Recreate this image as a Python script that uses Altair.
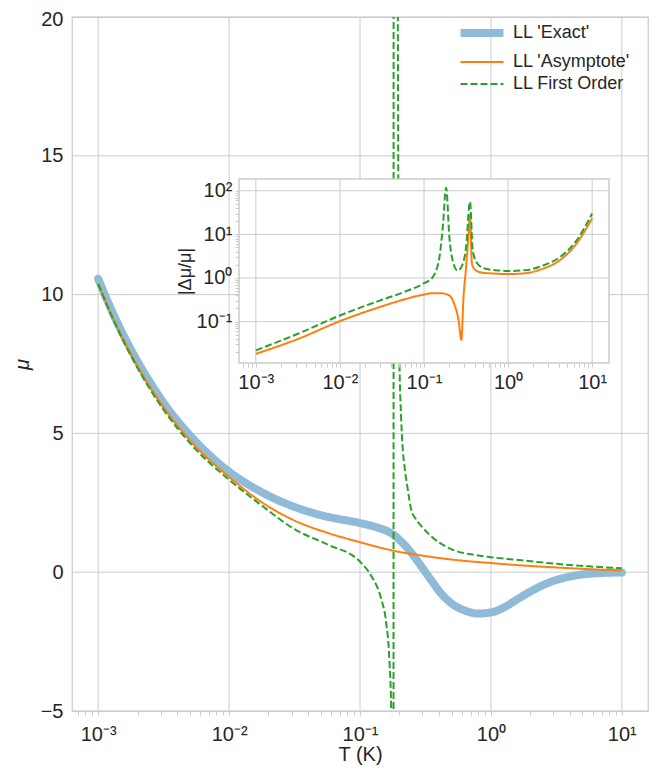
import json
import altair as alt
import pandas as pd

FONT = "Liberation Sans"
TXT = "#262626"
GRID = "#cccccc"

# ---------------- series ----------------
SERIES = ["LL 'Exact'", "LL 'Asymptote'", "LL First Order"]
SERIES_COLORS = ["#8fbbd9", "#ff7f0e", "#2ca02c"]
SERIES_DASH = [[1, 0], [1, 0], [7, 3]]
SERIES_WIDTH = [8, 2, 2]

# main panel: log10(T) and mu
exact_logT = [-3, -2.875, -2.75, -2.625, -2.5, -2.25, -2, -1.75, -1.5, -1.25, -1, -0.875,
              -0.75, -0.68, -0.61, -0.55, -0.5, -0.45, -0.38, -0.3, -0.2, -0.1, 0, 0.1,
              0.2, 0.3, 0.4, 0.5, 0.6, 0.7, 0.8, 0.9, 1]
exact_mu = [10.57, 9.2, 8.02, 7.0, 6.1, 4.68, 3.62, 2.88, 2.35, 2.0, 1.77, 1.62,
            1.37, 1.08, 0.71, 0.33, 0.0, -0.33, -0.77, -1.13, -1.38, -1.49, -1.45, -1.27,
            -0.98, -0.7, -0.46, -0.28, -0.16, -0.08, -0.04, -0.02, -0.01]

asym_logT = [-3, -2.875, -2.75, -2.625, -2.5, -2.25, -2, -1.75, -1.5, -1.25, -1, -0.75,
             -0.5, -0.25, 0, 0.25, 0.5, 0.75, 1]
asym_mu = [10.42, 9.04, 7.86, 6.83, 5.94, 4.5, 3.43, 2.52, 1.86, 1.42, 1.08, 0.78,
           0.58, 0.43, 0.33, 0.24, 0.17, 0.11, 0.06]

first_logT = [-3, -2.875, -2.75, -2.625, -2.5, -2.25, -2, -1.75, -1.5, -1.25, -1, -0.916,
              -0.839, -0.801, -0.775, -0.762, -0.752, -0.745,
              -0.742, -0.712, -0.708, -0.7, -0.686, -0.673, -0.66, -0.635, -0.609, -0.571,
              -0.533, -0.43, -0.303, -0.124, 0, 0.25, 0.5, 0.75, 1]
first_mu = [10.38, 9.0, 7.8, 6.75, 5.85, 4.4, 3.33, 2.4, 1.55, 1.0, 0.38, -0.12,
            -0.95, -1.79, -3.21, -4.9, -9.0, -30.0,
            60.0, 22.0, 15.0, 8.0, 5.6, 4.4, 3.81, 2.98, 2.26, 1.9,
            1.67, 1.19, 0.83, 0.62, 0.54, 0.42, 0.30, 0.21, 0.14]

# inset: log10(T) and log10(|dmu/mu|)
asym_err_logT = [-3, -2.5, -2, -1.5, -1.25, -1, -0.9, -0.8, -0.7, -0.64, -0.588, -0.556,
                 -0.53, -0.5, -0.473, -0.453, -0.43, -0.38, -0.3, -0.15, 0, 0.21, 0.41,
                 0.61, 0.81, 1.0]
asym_err_log = [-1.74, -1.40, -0.99, -0.65, -0.5, -0.38, -0.35, -0.35, -0.40, -0.6, -0.98, -1.42,
                -0.44, 0.24, 0.93, 1.46, 0.32, 0.17, 0.12, 0.1, 0.09, 0.11, 0.21,
                0.40, 0.78, 1.37]

first_err_logT = [-3, -2.5, -2, -1.5, -1.25, -1, -0.9, -0.817, -0.777, -0.737, -0.698, -0.659,
                  -0.6, -0.54, -0.5, -0.453, -0.42, -0.36, -0.263, -0.1, 0, 0.21, 0.41,
                  0.61, 0.81, 1.0]
first_err_log = [-1.66, -1.28, -0.86, -0.5, -0.33, -0.12, 0.01, 0.47, 1.16, 2.07, 0.93, 0.4,
                 0.17, 0.32, 0.70, 1.75, 0.62, 0.32, 0.21, 0.17, 0.16, 0.18, 0.28,
                 0.47, 0.85, 1.48]

# ---------------- axes ----------------
x_lim_exp = [-3.2, 1.2]
y_lim = [-5, 20]
y_ticks = [-5, 0, 5, 10, 15, 20]
x_major_exp = [-3, -2, -1, 0, 1]
x_major_labels = ["10⁻³", "10⁻²", "10⁻¹", "10⁰", "10¹"]
inset_y_lim_exp = [-1.95, 2.27]
inset_y_major_exp = [-1, 0, 1, 2]
inset_y_major_labels = ["10⁻¹", "10⁰", "10¹", "10²"]
minor_mult = [1, 2, 3, 4, 5, 6, 7, 8, 9]

x_dom = [10.0 ** x_lim_exp[0], 10.0 ** x_lim_exp[1]]
iy_dom = [10.0 ** inset_y_lim_exp[0], 10.0 ** inset_y_lim_exp[1]]
x_majors = [10.0 ** e for e in x_major_exp]
iy_majors = [10.0 ** e for e in inset_y_major_exp]

PLOT_W, PLOT_H = 576, 694
LABEL_SIZE = 20


def log_ticks(dom):
    vals = []
    for e in range(-5, 4):
        for m in minor_mult:
            v = m * 10.0 ** e if m > 1 else 10.0 ** e
            if dom[0] <= v <= dom[1]:
                vals.append(v)
    return vals


def label_expr(majors, labels):
    mj = json.dumps(majors)
    lb = json.dumps(labels, ensure_ascii=False)
    return f"indexof({mj}, datum.value) >= 0 ? {lb}[indexof({mj}, datum.value)] : ''"


def line_df(logT, vals, name, logv=False):
    return pd.DataFrame({
        "T": [10.0 ** v for v in logT],
        "v": [10.0 ** a for a in vals] if logv else vals,
        "series": name,
    })


# ---------------- shared encodings ----------------
color = alt.Color("series:N", scale=alt.Scale(domain=SERIES, range=SERIES_COLORS), legend=alt.Legend(title=None))
dash = alt.StrokeDash("series:N", scale=alt.Scale(domain=SERIES, range=SERIES_DASH), legend=alt.Legend(title=None))
width = alt.StrokeWidth("series:N", scale=alt.Scale(type="ordinal", domain=SERIES, range=SERIES_WIDTH),
                        legend=alt.Legend(title=None))

main_x_scale = alt.Scale(type="log", domain=x_dom, nice=False, zero=False)
main_y_scale = alt.Scale(domain=y_lim, nice=False, zero=False)

main_x_axis = alt.Axis(values=log_ticks(x_dom), labelExpr=label_expr(x_majors, x_major_labels),
                       grid=False, domain=False, tickSize=4, tickColor=GRID, labelPadding=9,
                       labelOverlap=False, labelFlush=False, title="T (K)", titlePadding=0)
main_y_axis = alt.Axis(values=y_ticks, grid=False, domain=False, ticks=False, labelPadding=9,
                       labelOffset={"condition": {"test": f"datum.value == {y_lim[1]}", "value": 2}, "value": 0},
                       title="μ", titleFontStyle="italic", titlePadding=8)


def mx(field):
    return alt.X(f"{field}:Q", scale=main_x_scale, axis=main_x_axis)


def my(field):
    return alt.Y(f"{field}:Q", scale=main_y_scale, axis=main_y_axis)


vgrid = alt.Chart(pd.DataFrame({"gx": x_majors})).mark_rule(color=GRID, strokeWidth=1).encode(x=mx("gx"))
hgrid = alt.Chart(pd.DataFrame({"gy": y_ticks})).mark_rule(color=GRID, strokeWidth=1).encode(y=my("gy"))


def main_line(df, cap="butt"):
    return alt.Chart(df).mark_line(clip=True, interpolate="monotone", strokeCap=cap).encode(
        x=mx("T"), y=my("v"), color=color, strokeDash=dash, strokeWidth=width)


blue = main_line(line_df(exact_logT, exact_mu, SERIES[0]), cap="round")
orange = main_line(line_df(asym_logT, asym_mu, SERIES[1]))
green = main_line(line_df(first_logT, first_mu, SERIES[2]))

main = alt.layer(vgrid, hgrid, blue, orange, green)

# ---------------- inset ----------------
INSET_X_RANGE = [167, 537]
INSET_Y_RANGE = [346, 162]
ins_x_scale = alt.Scale(type="log", domain=x_dom, range=INSET_X_RANGE, nice=False, zero=False)
ins_y_scale = alt.Scale(type="log", domain=iy_dom, range=INSET_Y_RANGE, nice=False, zero=False)
ins_x_axis = alt.Axis(orient="bottom", offset=-(PLOT_H - INSET_Y_RANGE[0]), values=log_ticks(x_dom),
                      labelExpr=label_expr(x_majors, x_major_labels), grid=False, domain=False,
                      tickSize=4, tickColor=GRID, labelPadding=5, labelOverlap=False,
                      labelFlush=False, title=None, zindex=1)
ins_y_axis = alt.Axis(orient="left", offset=-INSET_X_RANGE[0], values=log_ticks(iy_dom),
                      labelExpr=label_expr(iy_majors, inset_y_major_labels), grid=False,
                      domain=False, tickSize=4, tickColor=GRID, labelPadding=3,
                      labelOverlap=False, labelFlush=False, title="|Δμ/μ|", titlePadding=2,
                      titleFontSize=18, zindex=1)


def ix(field):
    return alt.X(f"{field}:Q", scale=ins_x_scale, axis=ins_x_axis)


def iy(field):
    return alt.Y(f"{field}:Q", scale=ins_y_scale, axis=ins_y_axis)


frame = alt.Chart(pd.DataFrame({"x0": [x_dom[0]], "x1": [x_dom[1]], "y0": [iy_dom[0]], "y1": [iy_dom[1]]})).mark_rect(
    fill="white", stroke=GRID, strokeWidth=1.5).encode(x=ix("x0"), x2="x1", y=iy("y0"), y2="y1")
ivgrid = alt.Chart(pd.DataFrame({"gx": x_majors, "lo": iy_dom[0], "hi": iy_dom[1]})).mark_rule(
    color=GRID, strokeWidth=1).encode(x=ix("gx"), y=iy("lo"), y2="hi")
ihgrid = alt.Chart(pd.DataFrame({"gy": iy_majors, "lo": x_dom[0], "hi": x_dom[1]})).mark_rule(
    color=GRID, strokeWidth=1).encode(y=iy("gy"), x=ix("lo"), x2="hi")


def inset_line(df):
    return alt.Chart(df).mark_line(interpolate="monotone").encode(
        x=ix("T"), y=iy("v"), color=color, strokeDash=dash, strokeWidth=width)


iorange = inset_line(line_df(asym_err_logT, asym_err_log, SERIES[1], logv=True))
igreen = inset_line(line_df(first_err_logT, first_err_log, SERIES[2], logv=True))

inset = alt.layer(frame, ivgrid, ihgrid, iorange, igreen)

chart = alt.layer(main, inset).resolve_scale(x="independent", y="independent").properties(
    width=PLOT_W, height=PLOT_H,
    autosize=alt.AutoSizeParams(type="none"),
    padding={"left": 64, "top": 9, "right": 5, "bottom": 54},
).configure_view(
    stroke=GRID, strokeWidth=1.25
).configure_axis(
    labelFont=FONT, titleFont=FONT, labelFontSize=LABEL_SIZE, titleFontSize=LABEL_SIZE,
    labelColor=TXT, titleColor=TXT, titleFontWeight="normal"
).configure_legend(
    orient="none", legendX=395, legendY=1, symbolType="M-2,0L2,0", symbolSize=462,
    labelFont=FONT, labelFontSize=18, labelColor=TXT, rowPadding=1, padding=0, labelOffset=16
)

chart.save("out.html", embed_options={"renderer": "svg", "actions": False})
